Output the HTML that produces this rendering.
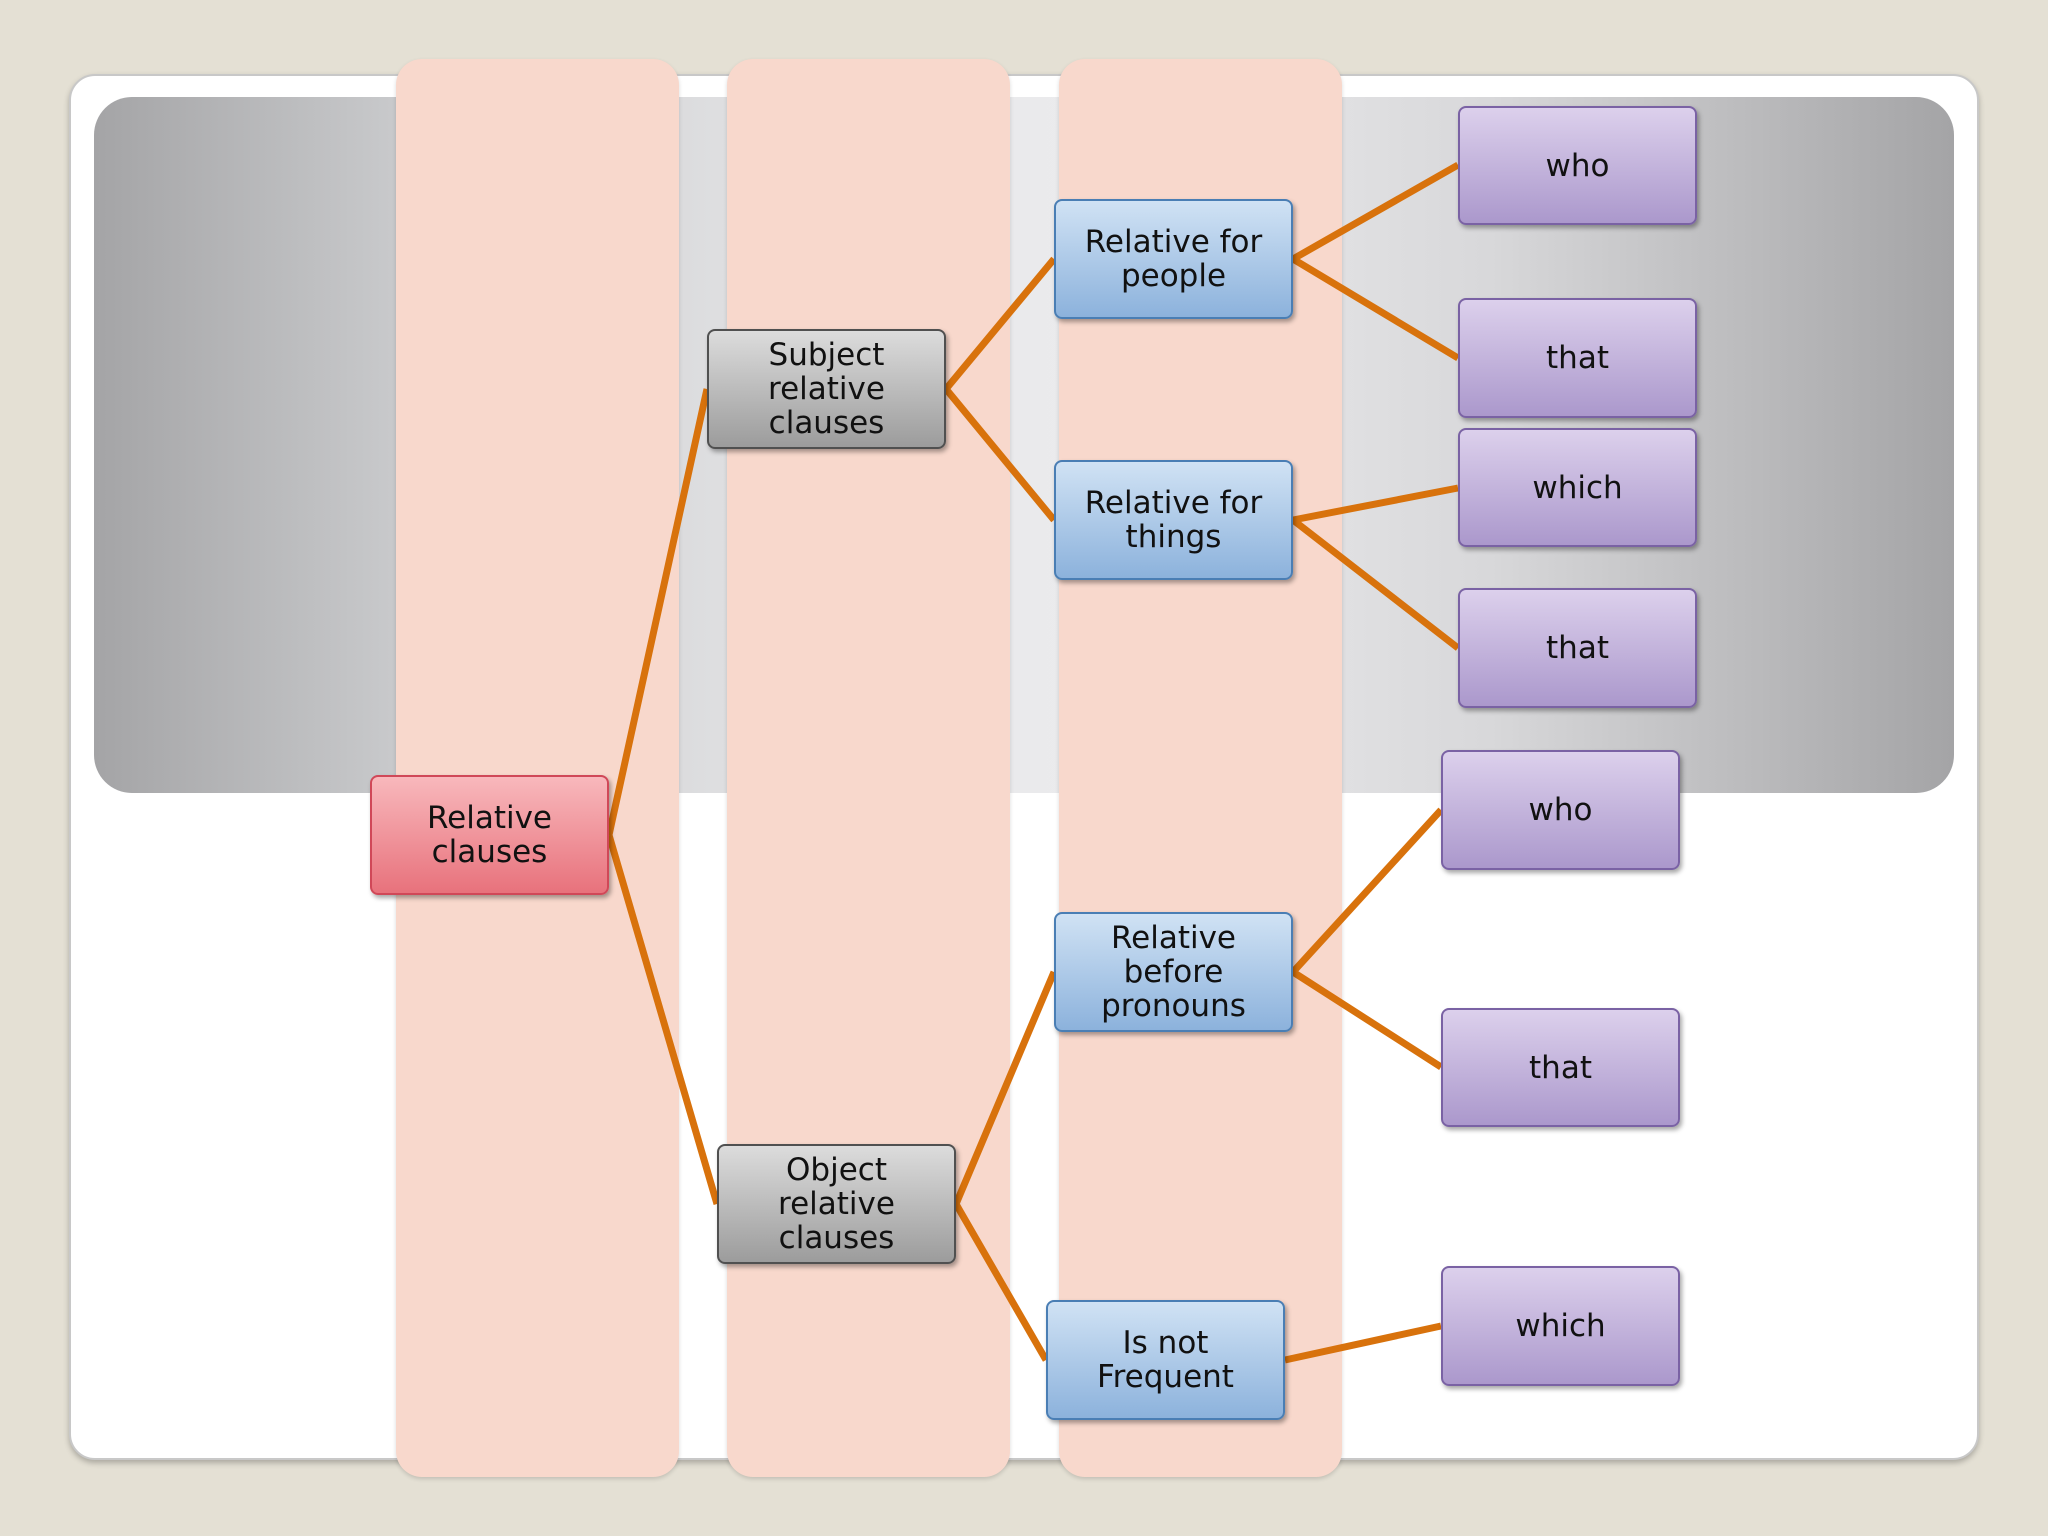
<!DOCTYPE html>
<html><head><meta charset="utf-8"><style>
html,body{margin:0;padding:0;background:#e4e0d4;}
body{width:2048px;height:1536px;position:relative;overflow:hidden;font-family:"DejaVu Sans","Liberation Sans",sans-serif;}
.card{position:absolute;left:69px;top:74px;width:1910px;height:1386px;background:#fff;border-radius:26px;border:2px solid #c8c8c8;box-shadow:0 3px 6px rgba(0,0,0,.25);box-sizing:border-box;}
.panel{position:absolute;left:94px;top:97px;width:1860px;height:696px;border-radius:38px;background:linear-gradient(90deg,#a4a4a6 0%,#c8c9cb 16%,#e6e6e8 40%,#ececee 55%,#d8d8da 75%,#a4a4a6 100%);}
.col{position:absolute;top:59px;height:1418px;width:283px;background:#f8d8cc;border-radius:26px;box-shadow:0 2px 4px rgba(0,0,0,.15);}
svg{position:absolute;left:0;top:0;}
.n{position:absolute;box-sizing:border-box;border-radius:8px;display:flex;align-items:center;justify-content:center;text-align:center;font-size:31px;line-height:34px;color:#111;box-shadow:2px 3px 5px rgba(0,0,0,.35);}
.r{background:linear-gradient(#f8b8bc,#e8727c);border:2px solid #d04858;}
.g{background:linear-gradient(#dcdcdc,#9c9c9c);border:2px solid #505050;}
.b{background:linear-gradient(#d0e2f4,#8cb2dc);border:2px solid #4a7eb4;}
.p{background:linear-gradient(#dcd0ec,#ab98cc);border:2px solid #7a62a4;}
</style></head><body>
<div class="card"></div>
<div class="panel"></div>
<div class="col" style="left:396px"></div>
<div class="col" style="left:727px"></div>
<div class="col" style="left:1059px"></div>
<svg width="2048" height="1536"><g stroke="#d8720c" stroke-width="7" fill="none">
<path d="M609 835L707 389M609 835L717 1204"/>
<path d="M946 389L1054 259M946 389L1054 520"/>
<path d="M956 1204L1054 972M956 1204L1046 1360"/>
<path d="M1293 259L1458 165M1293 259L1458 358"/>
<path d="M1293 520L1458 488M1293 520L1458 648"/>
<path d="M1293 972L1441 810M1293 972L1441 1067"/>
<path d="M1285 1360L1441 1326"/>
</g></svg>
<div class="n r" style="left:370px;top:775px;width:239px;height:120px">Relative<br>clauses</div>
<div class="n g" style="left:707px;top:329px;width:239px;height:120px">Subject<br>relative<br>clauses</div>
<div class="n g" style="left:717px;top:1144px;width:239px;height:120px">Object<br>relative<br>clauses</div>
<div class="n b" style="left:1054px;top:199px;width:239px;height:120px">Relative for<br>people</div>
<div class="n b" style="left:1054px;top:460px;width:239px;height:120px">Relative for<br>things</div>
<div class="n b" style="left:1054px;top:912px;width:239px;height:120px">Relative<br>before<br>pronouns</div>
<div class="n b" style="left:1046px;top:1300px;width:239px;height:120px">Is not<br>Frequent</div>
<div class="n p" style="left:1458px;top:106px;width:239px;height:119px">who</div>
<div class="n p" style="left:1458px;top:298px;width:239px;height:120px">that</div>
<div class="n p" style="left:1458px;top:428px;width:239px;height:119px">which</div>
<div class="n p" style="left:1458px;top:588px;width:239px;height:120px">that</div>
<div class="n p" style="left:1441px;top:750px;width:239px;height:120px">who</div>
<div class="n p" style="left:1441px;top:1008px;width:239px;height:119px">that</div>
<div class="n p" style="left:1441px;top:1266px;width:239px;height:120px">which</div>
</body></html>
